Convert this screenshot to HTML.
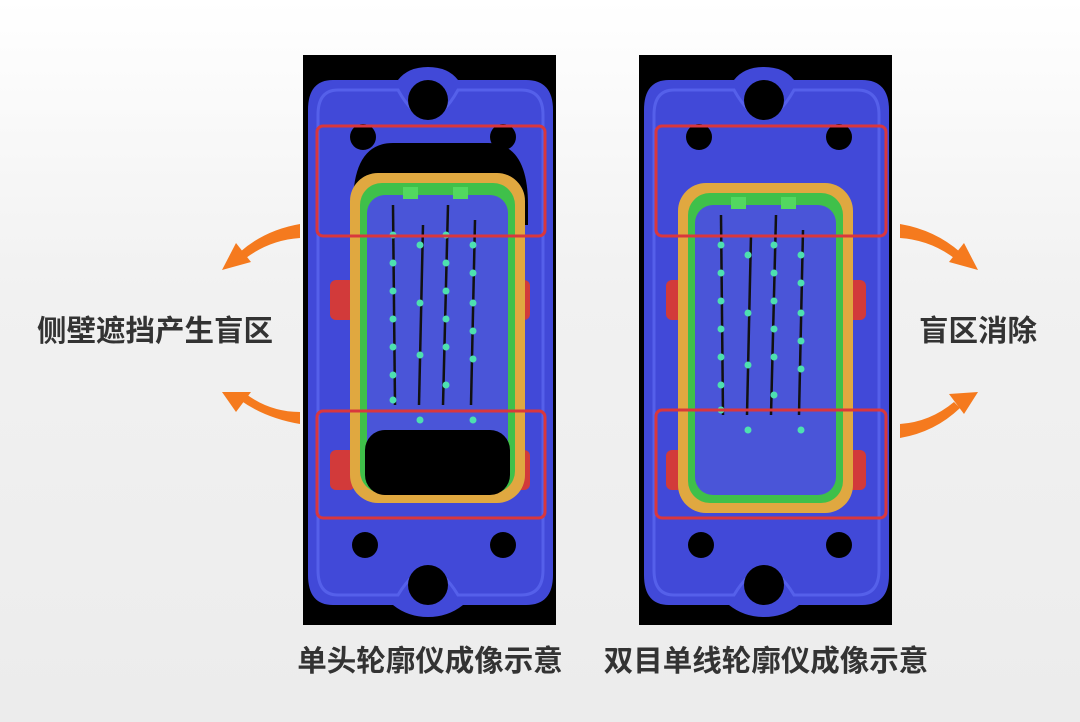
<!DOCTYPE html>
<html><head><meta charset="utf-8"><style>
html,body{margin:0;padding:0}
body{width:1080px;height:722px;overflow:hidden;background:linear-gradient(180deg,#ffffff 0%,#f1f1f1 40%,#ececec 100%);font-family:"Liberation Sans","Noto Sans CJK SC",sans-serif}
svg{position:absolute;left:0;top:0}
</style></head><body>
<svg width="1080" height="722" viewBox="0 0 1080 722">
<defs>
<g id="body">
  <rect x="0" y="0" width="253" height="570" fill="#000"/>
  <path d="M30 25 H95 Q105 12 125 12 Q145 12 155 25 H223 Q250 25 250 55 V520 Q250 550 223 550 H160 Q145 562 125 562 Q105 562 90 550 H30 Q5 550 5 520 V55 Q5 25 30 25Z" fill="#4149d8"/>
  <path d="M35 35 H95 Q110 62 125 62 Q140 62 155 35 H218 Q240 35 240 60 V515 Q240 540 218 540 H155 Q140 515 125 515 Q110 515 95 540 H35 Q15 540 15 515 V60 Q15 35 35 35Z" fill="none" stroke="#5560ea" stroke-width="3"/>
  <circle cx="125" cy="45" r="20" fill="#000"/>
  <circle cx="60" cy="82" r="13" fill="#000"/>
  <circle cx="200" cy="82" r="13" fill="#000"/>
  <circle cx="62" cy="490" r="13" fill="#000"/>
  <circle cx="200" cy="490" r="13" fill="#000"/>
  <circle cx="125" cy="530" r="20" fill="#000"/>
  <rect x="27" y="225" width="25" height="40" rx="6" fill="#d23a3a"/>
  <rect x="202" y="225" width="25" height="40" rx="6" fill="#d23a3a"/>
  <rect x="27" y="395" width="25" height="40" rx="6" fill="#d23a3a"/>
  <rect x="202" y="395" width="25" height="40" rx="6" fill="#d23a3a"/>
</g>
<g id="frame">
  <rect x="47" y="118" width="175" height="330" rx="28" fill="#e0a840"/>
  <rect x="57" y="128" width="155" height="310" rx="22" fill="#3fc04a"/>
  <rect x="64" y="140" width="141" height="290" rx="18" fill="#4a55d8"/>
  <rect x="100" y="132" width="15" height="12" fill="#52d860"/>
  <rect x="150" y="132" width="15" height="12" fill="#52d860"/>
  <g stroke="#111" stroke-width="2.5"><line x1="90" y1="150" x2="92" y2="350"/><line x1="120" y1="170" x2="116" y2="350"/><line x1="145" y1="150" x2="140" y2="350"/><line x1="172" y1="165" x2="168" y2="350"/></g>
  <g fill="#4de0b0"><circle cx="90" cy="180" r="3.5"/><circle cx="90" cy="208" r="3.5"/><circle cx="90" cy="236" r="3.5"/><circle cx="90" cy="264" r="3.5"/><circle cx="90" cy="292" r="3.5"/><circle cx="90" cy="320" r="3.5"/><circle cx="90" cy="345" r="3.5"/>
  <circle cx="117" cy="190" r="3.5"/><circle cx="117" cy="248" r="3.5"/><circle cx="117" cy="300" r="3.5"/><circle cx="117" cy="365" r="3.5"/>
  <circle cx="143" cy="180" r="3.5"/><circle cx="143" cy="208" r="3.5"/><circle cx="143" cy="236" r="3.5"/><circle cx="143" cy="264" r="3.5"/><circle cx="143" cy="292" r="3.5"/><circle cx="143" cy="330" r="3.5"/>
  <circle cx="170" cy="190" r="3.5"/><circle cx="170" cy="218" r="3.5"/><circle cx="170" cy="248" r="3.5"/><circle cx="170" cy="276" r="3.5"/><circle cx="170" cy="304" r="3.5"/><circle cx="170" cy="365" r="3.5"/></g>
</g>
</defs>
<g transform="translate(303,55)">
  <use href="#body"/>
  <path d="M50 150 Q50 88 90 88 H185 Q225 88 225 150 V170 H50Z" fill="#000"/>
  <use href="#frame"/>
  <rect x="62" y="375" width="145" height="65" rx="20" fill="#000"/>
  <rect x="14" y="71" width="228" height="110" rx="6" fill="none" stroke="#d9373d" stroke-width="3"/>
  <rect x="14" y="356" width="228" height="107" rx="6" fill="none" stroke="#d9373d" stroke-width="3"/>
</g>
<g transform="translate(639,55)">
  <use href="#body"/>
  <use href="#frame" transform="translate(-8,10)"/>
  <rect x="17" y="71" width="230" height="110" rx="6" fill="none" stroke="#d9373d" stroke-width="3"/>
  <rect x="17" y="355" width="230" height="108" rx="6" fill="none" stroke="#d9373d" stroke-width="3"/>
</g>
<g fill="#f57a1e" stroke="none">
  <path d="M300 224 Q265 230 240 252 L246 258 Q270 240 300 238Z"/>
  <polygon points="222,270 236,243 251,262"/>
  <path d="M300 424 Q265 418 240 400 L246 394 Q270 412 300 412Z"/>
  <polygon points="222,392 251,392 236,412"/>
  <path d="M900 224 Q935 230 960 252 L954 258 Q930 240 900 238Z"/>
  <polygon points="978,270 964,243 949,262"/>
  <path d="M900 438 Q935 432 960 408 L954 402 Q930 422 900 424Z"/>
  <polygon points="978,392 949,394 964,414"/>
</g>
<g font-family="Liberation Sans, Noto Sans CJK SC, sans-serif" font-weight="bold" fill="#333" font-size="29.5">
  <text x="155" y="341" text-anchor="middle">侧壁遮挡产生盲区</text>
  <text x="978" y="341" text-anchor="middle">盲区消除</text>
  <text x="430" y="671" text-anchor="middle">单头轮廓仪成像示意</text>
  <text x="766" y="671" text-anchor="middle">双目单线轮廓仪成像示意</text>
</g>
</svg>
</body></html>
